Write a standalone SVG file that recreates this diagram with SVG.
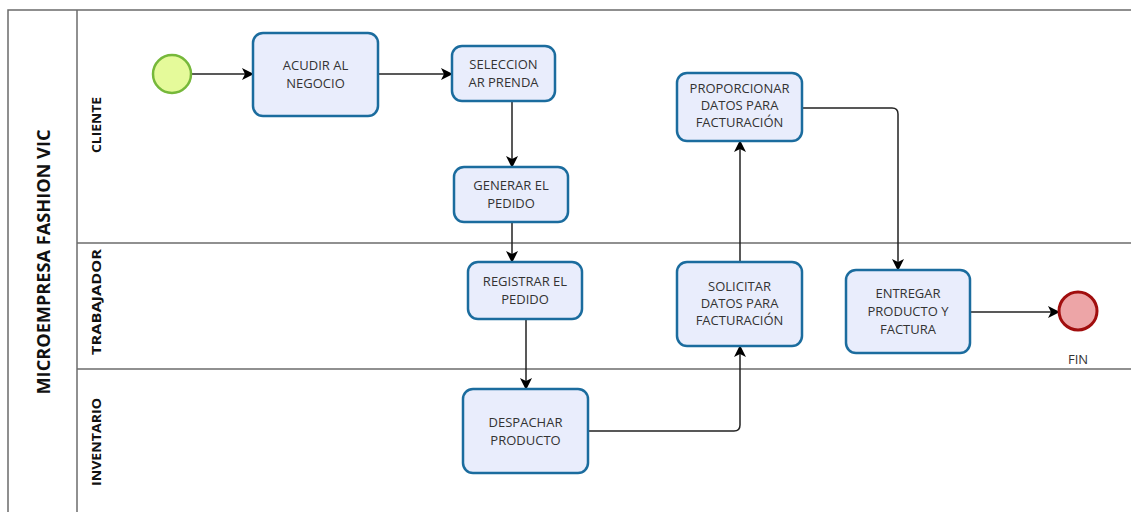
<svg xmlns="http://www.w3.org/2000/svg" width="1131" height="512" viewBox="0 0 1131 512">
<style>
.lane{stroke:#6b6b6b;stroke-width:1.5;fill:none}
.task rect{fill:#e9edfc;stroke:#1b6c9e;stroke-width:2.5}
.t{font-family:"Open Sans","Noto Sans",sans-serif;font-size:13px;fill:#333;text-anchor:middle}
.lbl{font-family:"Open Sans","Noto Sans",sans-serif;font-weight:bold;font-size:13px;fill:#111;text-anchor:middle}
.title{font-family:"Open Sans","Noto Sans",sans-serif;font-weight:bold;font-size:17px;fill:#111;text-anchor:middle}
.c{stroke:#222;stroke-width:1.5;fill:none;marker-end:url(#ah)}
</style>
<defs>
<marker id="ah" viewBox="0 0 12 12" refX="11" refY="6" markerWidth="12" markerHeight="12" markerUnits="userSpaceOnUse" orient="auto">
<path d="M0,0 L12,6 L0,12 L3,6 Z" fill="#000"/>
</marker>
</defs>
<rect width="1131" height="512" fill="#fff"/>
<g id="pool">
<path class="lane" d="M8,520 V10 H1135"/>
<path class="lane" d="M77,520 V10"/>
<path class="lane" d="M77,243 H1135"/>
<path class="lane" d="M77,369 H1135"/>
<text class="title" transform="translate(50,262) rotate(-90)" textLength="265" lengthAdjust="spacingAndGlyphs">MICROEMPRESA FASHION VIC</text>
<text class="lbl" transform="translate(101,125) rotate(-90)" textLength="56" lengthAdjust="spacingAndGlyphs">CLIENTE</text>
<text class="lbl" transform="translate(101,302) rotate(-90)" textLength="106" lengthAdjust="spacingAndGlyphs">TRABAJADOR</text>
<text class="lbl" transform="translate(101,442) rotate(-90)" textLength="88" lengthAdjust="spacingAndGlyphs">INVENTARIO</text>
</g>
<g id="connectors">
<path class="c" d="M191,74 H253"/>
<path class="c" d="M378,74 H452"/>
<path class="c" d="M512,101 V167"/>
<path class="c" d="M512,222 V262"/>
<path class="c" d="M526,319 V389"/>
<path class="c" d="M588,431 H734 Q740,431 740,425 V346"/>
<path class="c" d="M740,262 V141"/>
<path class="c" d="M802,108 H892 Q898,108 898,114 V270"/>
<path class="c" d="M970,312 H1059"/>
</g>
<g id="start"><circle cx="172" cy="74" r="19" fill="#e5fa9a" stroke="#76b83a" stroke-width="2.5"/></g>
<g id="acudir" class="task"><rect x="253" y="33" width="125" height="83" rx="10"/><text class="t" x="315.5" y="70">ACUDIR AL</text><text class="t" x="315.5" y="88">NEGOCIO</text></g>
<g id="seleccionar" class="task"><rect x="452" y="46" width="103" height="55" rx="10"/><text class="t" x="503.5" y="69">SELECCION</text><text class="t" x="503.5" y="87">AR PRENDA</text></g>
<g id="generar" class="task"><rect x="454" y="167" width="114" height="55" rx="10"/><text class="t" x="511" y="190">GENERAR EL</text><text class="t" x="511" y="208">PEDIDO</text></g>
<g id="registrar" class="task"><rect x="468" y="262" width="114" height="57" rx="10"/><text class="t" x="525" y="286">REGISTRAR EL</text><text class="t" x="525" y="304">PEDIDO</text></g>
<g id="despachar" class="task"><rect x="463" y="389" width="125" height="84" rx="10"/><text class="t" x="525.5" y="427">DESPACHAR</text><text class="t" x="525.5" y="445">PRODUCTO</text></g>
<g id="solicitar" class="task"><rect x="677" y="262" width="125" height="84" rx="10"/><text class="t" x="739.5" y="291">SOLICITAR</text><text class="t" x="739.5" y="308">DATOS PARA</text><text class="t" x="739.5" y="325">FACTURACIÓN</text></g>
<g id="proporcionar" class="task"><rect x="677" y="73" width="125" height="68" rx="10"/><text class="t" x="739.5" y="93">PROPORCIONAR</text><text class="t" x="739.5" y="110">DATOS PARA</text><text class="t" x="739.5" y="127">FACTURACIÓN</text></g>
<g id="entregar" class="task"><rect x="846" y="270" width="124" height="83" rx="10"/><text class="t" x="908" y="298">ENTREGAR</text><text class="t" x="908" y="316">PRODUCTO Y</text><text class="t" x="908" y="334">FACTURA</text></g>
<g id="fin"><circle cx="1078" cy="311" r="19" fill="#eda5a7" stroke="#a10e0e" stroke-width="3"/><text class="t" x="1078" y="364">FIN</text></g>
</svg>
